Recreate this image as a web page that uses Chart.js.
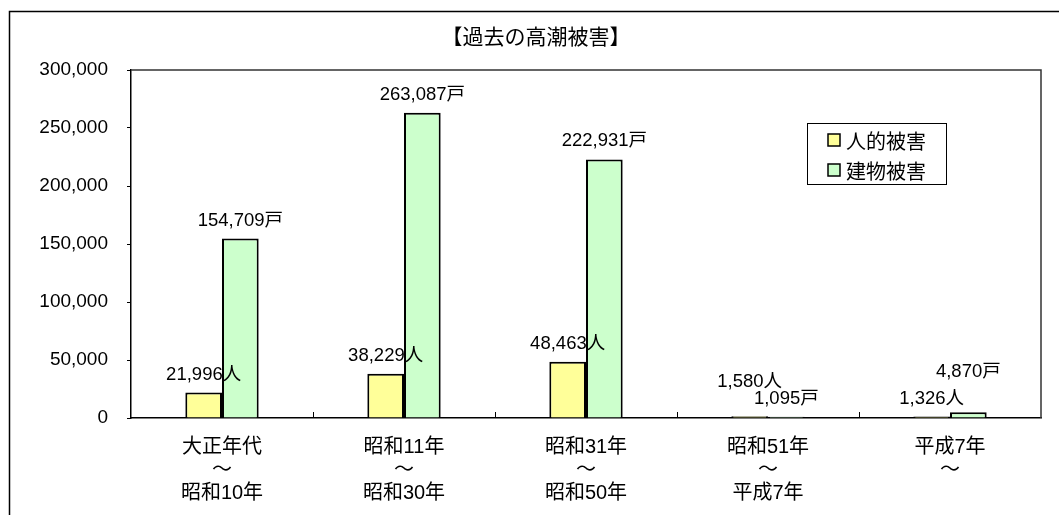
<!DOCTYPE html>
<html lang="ja">
<head>
<meta charset="utf-8">
<title>過去の高潮被害</title>
<script src="https://cdn.jsdelivr.net/npm/chart.js@4.4.1/dist/chart.umd.min.js"></script>
<style>
html, body { margin: 0; padding: 0; background: #fff; }
</style>
</head>
<body>
<canvas id="chart" width="1059" height="515"></canvas>
<script>
const TITLE = '【過去の高潮被害】';
const PERIODS = [
    ['大正年代', '～', '昭和10年'],
    ['昭和11年', '～', '昭和30年'],
    ['昭和31年', '～', '昭和50年'],
    ['昭和51年', '～', '平成7年'],
    ['平成7年', '～']
];
const CASUALTIES = [21996, 38229, 48463, 1580, 1326];     // 人的被害 (人)
const BUILDINGS = [154709, 263087, 222931, 1095, 4870];   // 建物被害 (戸)
const Y_MAX = 300000;
const Y_STEP = 50000;

// extra lift for labels that would collide with a neighbour
const CASUALTY_LIFT = [0, 0, 0, 16, 0];
const BUILDING_LIFT = [0, 0, 0, 0, 22];

const JP = '"Noto Sans CJK JP", sans-serif';
const NUM = '"Liberation Sans", "Noto Sans CJK JP", sans-serif';
const fmt = v => v.toLocaleString('en-US');

const decor = {
    id: 'decor',
    afterDraw(chart) {
        const { ctx, chartArea: a, scales: { x } } = chart;
        ctx.save();

        // outer frame (left and top only are visible in the picture)
        ctx.strokeStyle = '#000';
        ctx.lineWidth = 1.5;
        ctx.beginPath();
        ctx.moveTo(9.5, 515);
        ctx.lineTo(9.5, 11.5);
        ctx.lineTo(1059, 11.5);
        ctx.stroke();

        // plot box top and right
        ctx.strokeStyle = '#333';
        ctx.beginPath();
        ctx.moveTo(a.left, a.top);
        ctx.lineTo(a.right, a.top);
        ctx.lineTo(a.right, a.bottom);
        ctx.stroke();

        // small inward tick marks between categories
        ctx.strokeStyle = '#000';
        ctx.lineWidth = 1;
        for (let i = 0; i < PERIODS.length - 1; i++) {
            const px = Math.round((x.getPixelForTick(i) + x.getPixelForTick(i + 1)) / 2) + 0.5;
            ctx.beginPath();
            ctx.moveTo(px, a.bottom);
            ctx.lineTo(px, a.bottom - 6);
            ctx.stroke();
        }

        // title
        ctx.fillStyle = '#000';
        ctx.font = `21px ${JP}`;
        ctx.textAlign = 'center';
        ctx.textBaseline = 'middle';
        ctx.fillText(TITLE, 536, 36);

        // value labels above bars
        ctx.font = `18.5px ${NUM}`;
        chart.data.datasets.forEach((ds, d) => {
            chart.getDatasetMeta(d).data.forEach((bar, i) => {
                ctx.fillText(fmt(ds.data[i]) + ds.unit, bar.x, bar.y - 18 - ds.lift[i]);
            });
        });

        // legend box
        const lx = 807.5, ly = 123.5, lw = 139, lh = 61;
        ctx.fillStyle = '#fff';
        ctx.fillRect(lx, ly, lw, lh);
        ctx.strokeStyle = '#000';
        ctx.lineWidth = 1;
        ctx.strokeRect(lx, ly, lw, lh);
        ctx.font = `20px ${JP}`;
        ctx.textAlign = 'left';
        chart.data.datasets.forEach((ds, d) => {
            const cy = 140 + d * 30;
            ctx.fillStyle = ds.backgroundColor;
            ctx.fillRect(828, cy - 6, 12, 12);
            ctx.lineWidth = 1.5;
            ctx.strokeRect(828, cy - 6, 12, 12);
            ctx.fillStyle = '#000';
            ctx.fillText(ds.label, 846, cy + 1);
        });
        ctx.restore();
    }
};

new Chart(document.getElementById('chart'), {
    type: 'bar',
    data: {
        labels: PERIODS,
        datasets: [
            { label: '人的被害', unit: '人', lift: CASUALTY_LIFT, data: CASUALTIES,
              backgroundColor: '#FFFF99', borderColor: '#000', borderWidth: 2,
              categoryPercentage: 0.403, barPercentage: 1 },
            { label: '建物被害', unit: '戸', lift: BUILDING_LIFT, data: BUILDINGS,
              backgroundColor: '#CCFFCC', borderColor: '#000', borderWidth: 2,
              categoryPercentage: 0.403, barPercentage: 1 }
        ]
    },
    options: {
        responsive: false, animation: false, devicePixelRatio: 1,
        layout: { padding: { top: 70, right: 18, left: 0, bottom: 0 } },
        plugins: { legend: { display: false }, title: { display: false }, tooltip: { enabled: false } },
        scales: {
            x: {
                afterFit: s => { s.height = 97; },
                grid: { display: false, drawTicks: false },
                border: { display: true, color: '#000', width: 1.5 },
                ticks: { color: '#000', padding: 18, maxRotation: 0, autoSkip: false,
                         font: { family: NUM, size: 20, lineHeight: 1.15 } }
            },
            y: {
                min: 0, max: Y_MAX,
                afterFit: s => { s.width = 131; },
                grid: { drawOnChartArea: false, drawTicks: true, tickLength: 4, color: '#000' },
                border: { display: true, color: '#000', width: 1.5 },
                ticks: { stepSize: Y_STEP, color: '#000', padding: 19, callback: v => fmt(v),
                         font: { family: NUM, size: 19 } }
            }
        }
    },
    plugins: [decor]
});
</script>
</body>
</html>
